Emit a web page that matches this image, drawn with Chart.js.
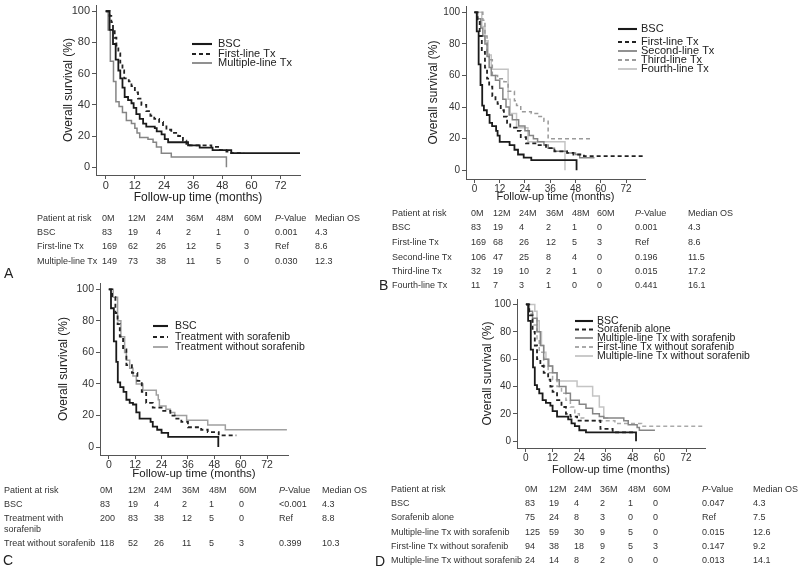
<!DOCTYPE html>
<html>
<head>
<meta charset="utf-8">
<script src="https://cdn.jsdelivr.net/npm/chart.js@4.4.1/dist/chart.umd.min.js"></script>
<style>
  body { margin: 0; background: #fff; width: 800px; height: 569px; overflow: hidden; position: relative;
         font-family: "Liberation Sans", Arial, sans-serif; }
  canvas { position: absolute; }
  .t { position: absolute; font-size: 9px; line-height: 11px; color: #333; white-space: nowrap; }
  .lt { position: absolute; font-size: 14px; line-height: 16px; color: #222; }
</style>
</head>
<body>
<canvas id="cA" width="320" height="215" style="left:0;top:0"></canvas>
<canvas id="cB" width="400" height="215" style="left:400px;top:0"></canvas>
<canvas id="cC" width="320" height="220" style="left:0;top:270px"></canvas>
<canvas id="cD" width="400" height="200" style="left:400px;top:290px"></canvas>
<script>
// shared axis ticks and table header
const xTicks = [0, 12, 24, 36, 48, 60, 72];
const yTicks = [0, 20, 40, 60, 80, 100];
const riskCols = ['0M', '12M', '24M', '36M', '48M', '60M'];

// ---- panel A ----
const aLabels = ['BSC', 'First-line Tx', 'Multiple-line Tx'];
const aBscT = [0, 1.6, 3, 4.1, 5.2, 6, 6.9, 7.8, 9.2, 10.6, 11.5, 12.6, 14, 15.4, 16.7, 20.2, 21, 23, 24.3, 25.7, 33.9, 38.7, 44, 51.7, 80];
const aBscS = [100, 88, 79, 69, 62, 57, 51, 45, 43, 41, 38, 34, 31, 28, 26, 25, 23, 21, 18, 16, 14, 12.6, 11, 9, 9];
const aFirstT = [0, 1.6, 2.3, 3, 3.7, 4.4, 5.2, 6, 6.9, 7.6, 9.5, 10.6, 12, 13.3, 14.7, 16.7, 18.4, 20, 22, 23.6, 25, 27, 29.8, 31.8, 33.2, 34.6, 43.5, 47, 49.7, 51.7, 57];
const aFirstS = [100, 97, 93, 88, 83, 78, 73, 67, 62, 57, 55, 52, 48, 44, 40, 36, 33, 31, 29, 27, 24, 22, 20, 17, 15, 14, 13, 11, 10, 9, 9];
const aMultiT = [0, 1, 1.9, 3.2, 4.2, 5.5, 6.9, 8.5, 10.6, 12, 12.9, 14, 17.4, 19.5, 20.9, 22.9, 27, 49.7, 49.7];
const aMultiS = [100, 88, 68, 55, 42, 39, 35, 30, 28, 25, 22, 19, 18, 16, 13, 9, 6.6, 6.6, 0];
const aRisk = [[83, 19, 4, 2, 1, 0], [169, 62, 26, 12, 5, 3], [149, 73, 38, 11, 5, 0]];
const aP = ['0.001', 'Ref', '0.030'];
const aMed = ['4.3', '8.6', '12.3'];

// ---- panel B ----
const bLabels = ['BSC', 'First-line Tx', 'Second-line Tx', 'Third-line Tx', 'Fourth-line Tx'];
const bBscT = [0, 1.1, 2, 2.9, 3.7, 4.5, 5.9, 7.2, 8.4, 10.3, 11, 12, 16.7, 19, 20.7, 23.4, 27, 48.5, 48.5];
const bBscS = [100, 88, 67, 54, 41, 38, 35, 30, 28, 25, 22, 18, 16, 13, 10, 8, 6.5, 6.5, 0];
const bFirstT = [0, 1.5, 2.5, 3.5, 5, 6, 7, 8.5, 10, 11, 12.5, 14, 15.5, 17, 20, 22, 24.5, 30, 34, 38, 44, 47, 52, 80];
const bFirstS = [100, 95, 85, 75, 65, 58, 53, 47, 44, 42, 38, 34, 30, 27, 25, 21, 17, 16, 14, 12, 11, 10, 9, 9];
const bSecondT = [0, 1.5, 3, 4, 5, 6, 7, 8, 10, 12, 13.5, 15, 16.5, 18, 21, 24, 26, 28, 30, 33, 35, 38, 44, 48, 50, 57];
const bSecondS = [100, 96, 90, 85, 80, 72, 65, 60, 57, 52, 45, 40, 35, 32, 28, 25, 22, 20, 18, 16, 14, 12, 11, 10, 8, 8];
const bThirdT = [0, 4, 5, 6, 7, 8.5, 11, 14, 16, 19, 20, 22, 27, 30, 33, 35, 55];
const bThirdS = [100, 95, 85, 75, 70, 60, 58, 56, 50, 44, 41, 37, 36, 34, 31, 20, 20];
const bFourthT = [0, 3.5, 5, 6.5, 8, 16, 17, 20, 25.4, 43, 43];
const bFourthS = [100, 91, 82, 73, 64, 45, 36, 27, 18, 18, 0];
const bRisk = [[83, 19, 4, 2, 1, 0], [169, 68, 26, 12, 5, 3], [106, 47, 25, 8, 4, 0], [32, 19, 10, 2, 1, 0], [11, 7, 3, 1, 0, 0]];
const bP = ['0.001', 'Ref', '0.196', '0.015', '0.441'];
const bMed = ['4.3', '8.6', '11.5', '17.2', '16.1'];

// ---- panel C ----
const cLabels = ['BSC', 'Treatment with sorafenib', 'Treatment without sorafenib'];
const cRowLabels = ['BSC', 'Treatment with', 'Treat without sorafenib'];
const cBscT = [0, 1, 2.3, 3.4, 4.1, 5.2, 6.7, 8, 9.5, 11, 12.5, 14, 19, 20, 22, 24, 27, 49.8, 49.8];
const cBscS = [100, 88, 67, 54, 41, 38, 35, 30, 28, 27, 22, 18, 16, 13, 11, 9, 6.5, 6.5, 0];
const cWithT = [0, 1.5, 3, 4, 5, 6.5, 8, 10.5, 13, 15, 17, 20, 24, 28, 30, 33, 36, 42, 45, 50, 58];
const cWithS = [100, 95, 85, 78, 70, 62, 52, 47, 42, 35, 28, 25, 23, 20, 18, 16, 12.6, 11, 9.5, 7.4, 7.4];
const cWithoutT = [0, 2, 4, 5.5, 7.2, 8, 9.5, 11, 12.5, 15.5, 21.6, 22.5, 23, 26, 28, 30, 35.4, 45, 53, 81];
const cWithoutS = [100, 95, 80, 70, 60, 55, 50, 45, 40, 36, 33, 30, 26, 24, 22, 20, 17, 14, 11, 11];
const cRisk = [[83, 19, 4, 2, 1, 0], [200, 83, 38, 12, 5, 0], [118, 52, 26, 11, 5, 3]];
const cP = ['<0.001', 'Ref', '0.399'];
const cMed = ['4.3', '8.8', '10.3'];

// ---- panel D ----
const dLabels = ['BSC', 'Sorafenib alone', 'Multiple-line Tx with sorafenib', 'First-line Tx without sorafenib', 'Multiple-line Tx without sorafenib'];
const dBscT = [0, 1, 2.2, 3.2, 4, 5, 6, 7.5, 9, 11, 12, 14, 19, 20.5, 22, 24, 27, 49.5, 49.5];
const dBscS = [100, 88, 67, 54, 41, 38, 35, 30, 28, 26, 22, 18, 16, 13, 11, 8, 6.5, 6.5, 0];
const dSoraT = [0, 1.5, 3, 4, 5, 6.5, 8, 10, 11, 12, 14, 16, 18, 20, 23, 33.5, 39, 49];
const dSoraS = [100, 92, 80, 70, 60, 55, 50, 45, 40, 36, 30, 25, 20, 18, 15, 9, 6.5, 6.5];
const dMultiWT = [0, 1.5, 3, 5, 6.5, 8, 10, 12, 14, 15, 18, 20, 24, 27, 30, 33, 35, 44, 46, 50, 51, 58];
const dMultiWS = [100, 95, 90, 80, 70, 60, 55, 50, 45, 40, 35, 30, 27, 24, 20, 18, 17, 15, 12, 10, 8, 8];
const dFirstWoT = [0, 1.5, 3, 5, 6, 8, 10, 12, 14, 16, 18, 20, 22, 24, 26, 40, 52, 80];
const dFirstWoS = [100, 93, 85, 75, 65, 55, 50, 45, 40, 35, 30, 25, 20, 17, 15, 13, 11, 11];
const dMultiWoT = [0, 4, 5, 6, 7, 8, 9, 10.5, 12, 14, 23, 30, 33, 35, 37];
const dMultiWoS = [100, 95, 88, 80, 70, 65, 60, 55, 50, 44, 40, 33, 25, 17, 17];
const dRisk = [[83, 19, 4, 2, 1, 0], [75, 24, 8, 3, 0, 0], [125, 59, 30, 9, 5, 0], [94, 38, 18, 9, 5, 3], [24, 14, 8, 2, 0, 0]];
const dP = ['0.047', 'Ref', '0.015', '0.147', '0.013'];
const dMed = ['4.3', '7.5', '12.6', '9.2', '14.1'];

// line styles
const FONT = '"Liberation Sans", Arial, sans-serif';
Chart.defaults.font.family = FONT;
const black = { borderColor: '#1a1a1a', borderWidth: 1.8 };
const dashBlack = { borderColor: '#222', borderWidth: 1.8, borderDash: [4, 3] };
const gray = { borderColor: '#858585', borderWidth: 1.5 };
const grayDash = { borderColor: '#9a9a9a', borderWidth: 1.5, borderDash: [4, 3] };
const light = { borderColor: '#c4c4c4', borderWidth: 1.5 };

function series(t, s) {
  return t.map((x, i) => ({ x: x, y: s[i] }));
}

const kmLegend = {
  id: 'kmLegend',
  afterDraw(chart, args, o) {
    const ctx = chart.ctx;
    ctx.save();
    chart.data.datasets.forEach((ds, i) => {
      const y = o.ys[i];
      ctx.strokeStyle = ds.borderColor;
      ctx.lineWidth = ds.borderWidth + 0.3;
      ctx.setLineDash(ds.borderDash || []);
      ctx.beginPath();
      ctx.moveTo(o.x0, y);
      ctx.lineTo(o.x1, y);
      ctx.stroke();
      ctx.setLineDash([]);
      ctx.fillStyle = '#222';
      ctx.font = o.size + 'px ' + FONT;
      ctx.textBaseline = 'middle';
      ctx.fillText(ds.label, o.tx, y);
    });
    ctx.restore();
  }
};

function kmChart(id, p) {
  const datasets = p.sets.map(s => Object.assign({
    label: s.label,
    data: series(s.t, s.s),
    stepped: 'before',
    pointRadius: 0,
    fill: false
  }, s.style));
  new Chart(document.getElementById(id), {
    type: 'line',
    data: { datasets: datasets },
    plugins: [kmLegend],
    options: {
      responsive: false,
      animation: false,
      layout: { padding: p.pad },
      plugins: {
        legend: { display: false },
        tooltip: { enabled: false },
        kmLegend: p.legend
      },
      scales: {
        x: {
          type: 'linear', min: -4, max: p.xMax,
          afterBuildTicks: s => { s.ticks = xTicks.map(v => ({ value: v })); },
          afterFit: s => { s.height = p.xH; s.paddingLeft = 0; s.paddingRight = 0; },
          grid: { drawOnChartArea: false, tickLength: 4, color: '#555' },
          border: { color: '#555', width: 1 },
          ticks: { font: { size: p.tick }, color: '#333', padding: 0, maxRotation: 0, autoSkip: false },
          title: { display: true, text: 'Follow-up time (months)', font: { size: p.tick + 1 }, color: '#222', padding: { top: 4, bottom: 4 } }
        },
        y: {
          min: p.yMin, max: 104,
          afterBuildTicks: s => { s.ticks = yTicks.map(v => ({ value: v })); },
          afterFit: s => { s.width = p.yW; s.paddingTop = 0; s.paddingBottom = 0; },
          grid: { drawOnChartArea: false, tickLength: 4, color: '#555' },
          border: { color: '#555', width: 1 },
          ticks: { font: { size: p.tick }, color: '#333', padding: 2 },
          title: { display: true, text: 'Overall survival (%)', font: { size: 12 }, color: '#222', padding: { top: 4, bottom: 4 } }
        }
      }
    }
  });
}

kmChart('cA', {
  pad: { left: 57, right: 20, top: 5, bottom: 6 }, yW: 39, xH: 34, xMax: 80, yMin: -5, tick: 11,
  legend: { x0: 192, x1: 212, tx: 218, ys: [44, 54, 63], size: 11 },
  sets: [
    { label: aLabels[0], t: aBscT, s: aBscS, style: black },
    { label: aLabels[1], t: aFirstT, s: aFirstS, style: dashBlack },
    { label: aLabels[2], t: aMultiT, s: aMultiS, style: gray }
  ]
});
kmChart('cB', {
  pad: { left: 22, right: 155, top: 6, bottom: 7 }, yW: 44, xH: 29, xMax: 81, yMin: -5.5, tick: 10,
  legend: { x0: 218, x1: 237, tx: 241, ys: [29, 42, 51, 60, 69], size: 11 },
  sets: [
    { label: bLabels[0], t: bBscT, s: bBscS, style: black },
    { label: bLabels[1], t: bFirstT, s: bFirstS, style: dashBlack },
    { label: bLabels[2], t: bSecondT, s: bSecondS, style: gray },
    { label: bLabels[3], t: bThirdT, s: bThirdS, style: grayDash },
    { label: bLabels[4], t: bFourthT, s: bFourthS, style: light }
  ]
});
kmChart('cC', {
  pad: { left: 52, right: 32, top: 13, bottom: 5 }, yW: 48, xH: 30, xMax: 81.5, yMin: -5, tick: 10.5,
  legend: { x0: 153, x1: 168, tx: 175, ys: [56, 67, 77], size: 10.5 },
  sets: [
    { label: cLabels[0], t: cBscT, s: cBscS, style: black },
    { label: cLabels[1], t: cWithT, s: cWithS, style: dashBlack },
    { label: cLabels[2], t: cWithoutT, s: cWithoutS, style: Object.assign({}, gray, { borderColor: '#a0a0a0' }) }
  ]
});
kmChart('cD', {
  pad: { left: 76, right: 95, top: 9, bottom: 9 }, yW: 41, xH: 33, xMax: 80.5, yMin: -5, tick: 10,
  legend: { x0: 175, x1: 193, tx: 197, ys: [31, 39.5, 48, 57, 66], size: 10.5 },
  sets: [
    { label: dLabels[0], t: dBscT, s: dBscS, style: black },
    { label: dLabels[1], t: dSoraT, s: dSoraS, style: dashBlack },
    { label: dLabels[2], t: dMultiWT, s: dMultiWS, style: gray },
    { label: dLabels[3], t: dFirstWoT, s: dFirstWoS, style: Object.assign({}, grayDash, { borderColor: '#aaa' }) },
    { label: dLabels[4], t: dMultiWoT, s: dMultiWoS, style: light }
  ]
});

// risk tables
function put(cls, text, x, y, html) {
  const el = document.createElement('div');
  el.className = cls;
  if (html) el.innerHTML = text; else el.textContent = text;
  el.style.left = x + 'px';
  el.style.top = (y - 5.5) + 'px';
  document.body.appendChild(el);
}
function table(cols, ys, labels, risk, pv, med) {
  put('t', 'Patient at risk', cols[0], ys[0]);
  riskCols.forEach((c, j) => put('t', c, cols[j + 1], ys[0]));
  put('t', '<i>P</i>-Value', cols[7], ys[0], true);
  put('t', 'Median OS', cols[8], ys[0]);
  labels.forEach((lab, i) => {
    const y = ys[i + 1];
    put('t', lab, cols[0], y);
    risk[i].forEach((v, j) => put('t', String(v), cols[j + 1], y));
    put('t', pv[i], cols[7], y);
    put('t', med[i], cols[8], y);
  });
}
table([37, 102, 128, 156, 186, 216, 244, 275, 315], [218, 232, 246, 261], aLabels, aRisk, aP, aMed);
table([392, 471, 493, 519, 546, 572, 597, 635, 688], [213, 227, 242, 257, 271, 285], bLabels, bRisk, bP, bMed);
table([4, 100, 128, 154, 182, 209, 239, 279, 322], [490, 504, 518, 543], cRowLabels, cRisk, cP, cMed);
put('t', 'sorafenib', 4, 529);
table([391, 525, 549, 574, 600, 628, 653, 702, 753], [489, 503, 517, 532, 546, 560], dLabels, dRisk, dP, dMed);

put('lt', 'A', 4, 270);
put('lt', 'B', 379, 282);
put('lt', 'C', 3, 557);
put('lt', 'D', 375, 558);
</script>
</body>
</html>
